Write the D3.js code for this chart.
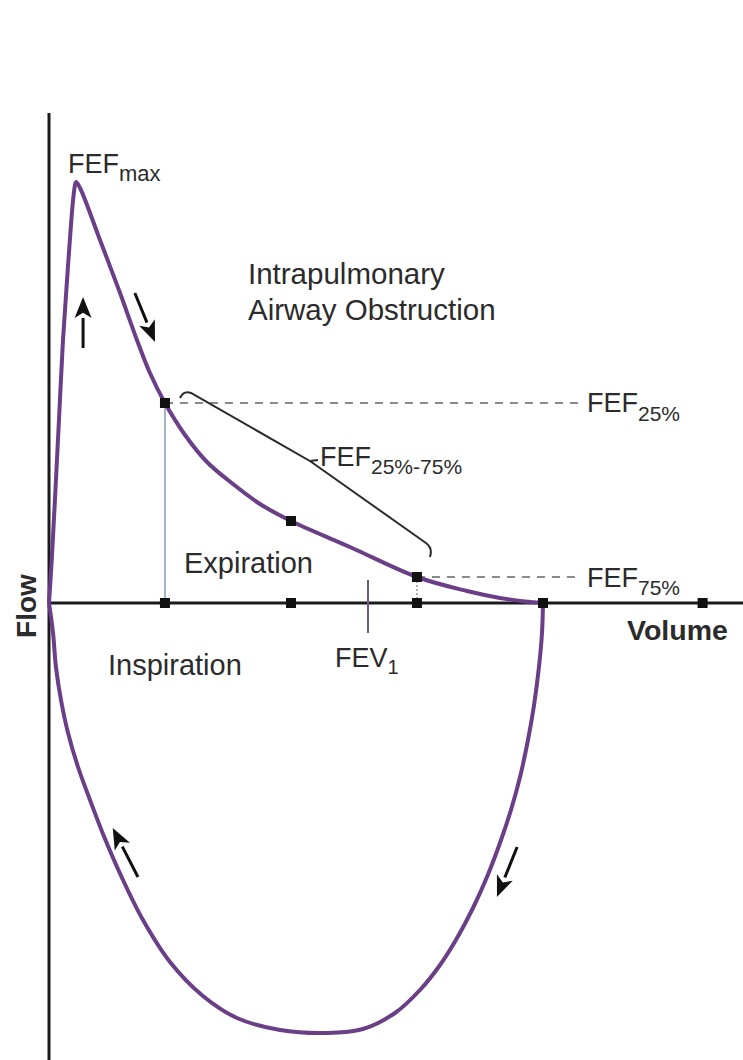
<!DOCTYPE html>
<html>
<head>
<meta charset="utf-8">
<script src="https://cdn.jsdelivr.net/npm/d3@7/dist/d3.min.js"></script>
<style>
  html, body { margin: 0; padding: 0; background: #fff; }
  svg { display: block; }
  text { font-family: "Liberation Sans", Arial, sans-serif; fill: #2b2b2b; }
</style>
</head>
<body>
<svg id="chart" width="743" height="1060"></svg>
<script>
// ---- data (volume in arbitrary litres, flow in arbitrary L/s) ----
const expVolume = [0, 0.024, 0.051, 0.079, 0.111, 0.143, 0.174, 0.198, 0.214, 0.246, 0.404, 0.563, 0.697, 0.800, 0.919, 1.078, 1.252, 1.458, 1.672, 1.918, 2.385, 2.916, 3.313, 3.574, 3.772, 3.915];
const expFlow   = [0, 0.96, 2.26, 3.66, 5.26, 6.46, 7.56, 8.22, 8.42, 8.30, 7.26, 6.20, 5.26, 4.60, 4.00, 3.36, 2.82, 2.38, 1.98, 1.64, 1.12, 0.52, 0.24, 0.10, 0.03, 0];

const inspVolume = [0, 0.032, 0.055, 0.095, 0.151, 0.230, 0.325, 0.428, 0.579, 0.745, 0.959, 1.220, 1.490, 1.831, 2.203, 2.488, 2.742, 2.940, 3.099, 3.234, 3.360, 3.471, 3.574, 3.661, 3.733, 3.796, 3.844, 3.883, 3.907, 3.915];
const inspFlow   = [0, -0.60, -1.28, -1.94, -2.60, -3.28, -3.94, -4.62, -5.50, -6.34, -7.18, -7.86, -8.30, -8.54, -8.60, -8.52, -8.20, -7.74, -7.24, -6.70, -6.10, -5.48, -4.80, -4.14, -3.48, -2.74, -2.04, -1.28, -0.60, 0];

const fefLabels  = ["25%", "50%", "75%"];
const fefVolume  = [0.919, 1.918, 2.916];
const fefFlow    = [4.00, 1.64, 0.52];
const axisMarkVolume = [0.919, 1.918, 2.916, 3.915, 5.18];
const fev1Volume = 2.528;
const peakVolume = 0.214, peakFlow = 8.42;

// ---- scales ----
const sx = d3.scaleLinear().domain([0, 5.5]).range([49, 743]);
const sy = d3.scaleLinear().domain([-9.14, 9.8]).range([1060, 113]);

const svg = d3.select("#chart");
const purple = "#6a3f88";

// axes
svg.append("line").attr("x1", sx(0)).attr("x2", sx(0)).attr("y1", sy(9.8)).attr("y2", sy(-9.14))
  .attr("stroke", "#1a1a1a").attr("stroke-width", 3);
svg.append("line").attr("x1", sx(0)).attr("x2", sx(5.5)).attr("y1", sy(0)).attr("y2", sy(0))
  .attr("stroke", "#1a1a1a").attr("stroke-width", 3);

// vertical guide at FEF25
svg.append("line").attr("x1", sx(fefVolume[0])).attr("x2", sx(fefVolume[0]))
  .attr("y1", sy(fefFlow[0])).attr("y2", sy(0))
  .attr("stroke", "#9fb3cc").attr("stroke-width", 2);
// dotted guide at FEF75
svg.append("line").attr("x1", sx(fefVolume[2])).attr("x2", sx(fefVolume[2]))
  .attr("y1", sy(fefFlow[2])).attr("y2", sy(0))
  .attr("stroke", "#999").attr("stroke-width", 1.5).attr("stroke-dasharray", "2,2");

// dashed lines to labels
[0, 2].forEach(i => {
  svg.append("line").attr("x1", sx(fefVolume[i])).attr("x2", 582)
    .attr("y1", sy(fefFlow[i])).attr("y2", sy(fefFlow[i]))
    .attr("stroke", "#8a8a8a").attr("stroke-width", 2).attr("stroke-dasharray", "8,7");
});

// FEV1 tick
svg.append("line").attr("x1", sx(fev1Volume)).attr("x2", sx(fev1Volume))
  .attr("y1", sy(0) - 23).attr("y2", sy(0) + 30)
  .attr("stroke", "#6b5a7a").attr("stroke-width", 2);

// curves
const line = d3.line().x(d => sx(d[0])).y(d => sy(d[1])).curve(d3.curveCatmullRom.alpha(0.5));
svg.append("path").datum(expVolume.map((v, i) => [v, expFlow[i]]))
  .attr("d", line).attr("fill", "none").attr("stroke", purple).attr("stroke-width", 4).attr("stroke-linejoin", "round");
svg.append("path").datum(inspVolume.map((v, i) => [v, inspFlow[i]]))
  .attr("d", line).attr("fill", "none").attr("stroke", purple).attr("stroke-width", 4);

// markers
const ms = 10;
svg.selectAll(".fefm").data(fefVolume).enter().append("rect")
  .attr("x", (d) => sx(d) - ms / 2).attr("y", (d, i) => sy(fefFlow[i]) - ms / 2)
  .attr("width", ms).attr("height", ms).attr("fill", "#111");
svg.selectAll(".axm").data(axisMarkVolume).enter().append("rect")
  .attr("x", d => sx(d) - ms / 2).attr("y", sy(0) - ms / 2)
  .attr("width", ms).attr("height", ms).attr("fill", "#111");

// bracket FEF25%-75%
{
  const x1 = sx(fefVolume[0]), y1 = sy(fefFlow[0]);
  const x2 = sx(fefVolume[2]), y2 = sy(fefFlow[2]);
  const p = d3.path();
  p.moveTo(x1 + 15, y1 - 5);
  p.quadraticCurveTo(x1 + 19, y1 - 13, x1 + 26, y1 - 10);
  p.lineTo(x1 + 145, y1 + 58);
  p.lineTo(x1 + 153, y1 + 57);
  p.moveTo(x1 + 145, y1 + 58);
  p.lineTo(x2 + 9, y2 - 34);
  p.quadraticCurveTo(x2 + 16, y2 - 29, x2 + 13, y2 - 20);
  svg.append("path").attr("d", p.toString()).attr("fill", "none")
    .attr("stroke", "#2b2b2b").attr("stroke-width", 2);
}

// arrows
function arrow(xa, ya, xb, yb) {
  const ang = Math.atan2(yb - ya, xb - xa);
  const hl = 21, hw = 8.5;
  const bx = xb - hl * Math.cos(ang), by = yb - hl * Math.sin(ang);
  svg.append("line").attr("x1", xa).attr("y1", ya).attr("x2", bx).attr("y2", by)
    .attr("stroke", "#111").attr("stroke-width", 3);
  const nx = -Math.sin(ang), ny = Math.cos(ang);
  const bx2 = xb - hl * 0.75 * Math.cos(ang), by2 = yb - hl * 0.75 * Math.sin(ang);
  svg.append("path")
    .attr("d", `M${xb},${yb}L${bx + nx * hw},${by + ny * hw}L${bx2},${by2}L${bx - nx * hw},${by - ny * hw}Z`)
    .attr("fill", "#111");
}
arrow(sx(0.27), sy(5.1), sx(0.27), sy(6.12));               // up (rising expiration)
arrow(sx(0.68), sy(6.2), sx(0.84), sy(5.22));               // down-right
arrow(sx(0.705), sy(-5.48), sx(0.505), sy(-4.5));           // up-left (inspiration)
arrow(sx(3.71), sy(-4.88), sx(3.55), sy(-5.88));            // down-left

// labels
function subLabel(x, y, main, sub, size, subSize, dy) {
  const t = svg.append("text").attr("x", x).attr("y", y).style("font-size", size + "px");
  t.append("tspan").text(main);
  t.append("tspan").attr("dy", dy).style("font-size", subSize + "px").text(sub);
  return t;
}
subLabel(sx(peakVolume) - 8, 173, "FEF", "max", 27, 22, 8);
subLabel(587, 412, "FEF", fefLabels[0], 27, 21, 9);
subLabel(587, 587, "FEF", fefLabels[2], 27, 21, 8);
subLabel(320, 466, "FEF", fefLabels[0] + "-" + fefLabels[2], 27, 21, 8);
subLabel(335, 667, "FEV", "1", 27, 20, 7);

svg.append("text").attr("x", 248).attr("y", 284).style("font-size", "29.5px").text("Intrapulmonary");
svg.append("text").attr("x", 248).attr("y", 320).style("font-size", "29.5px").text("Airway Obstruction");
svg.append("text").attr("x", 184).attr("y", 573).style("font-size", "29px").text("Expiration");
svg.append("text").attr("x", 108).attr("y", 675).style("font-size", "29px").text("Inspiration");
svg.append("text").attr("x", 627).attr("y", 640).style("font-size", "28.5px").style("font-weight", "bold").text("Volume");
svg.append("text").attr("transform", `translate(36,${sy(0) + 3}) rotate(-90)`)
  .attr("text-anchor", "middle").style("font-size", "28px").style("font-weight", "bold").text("Flow");
</script>
</body>
</html>
